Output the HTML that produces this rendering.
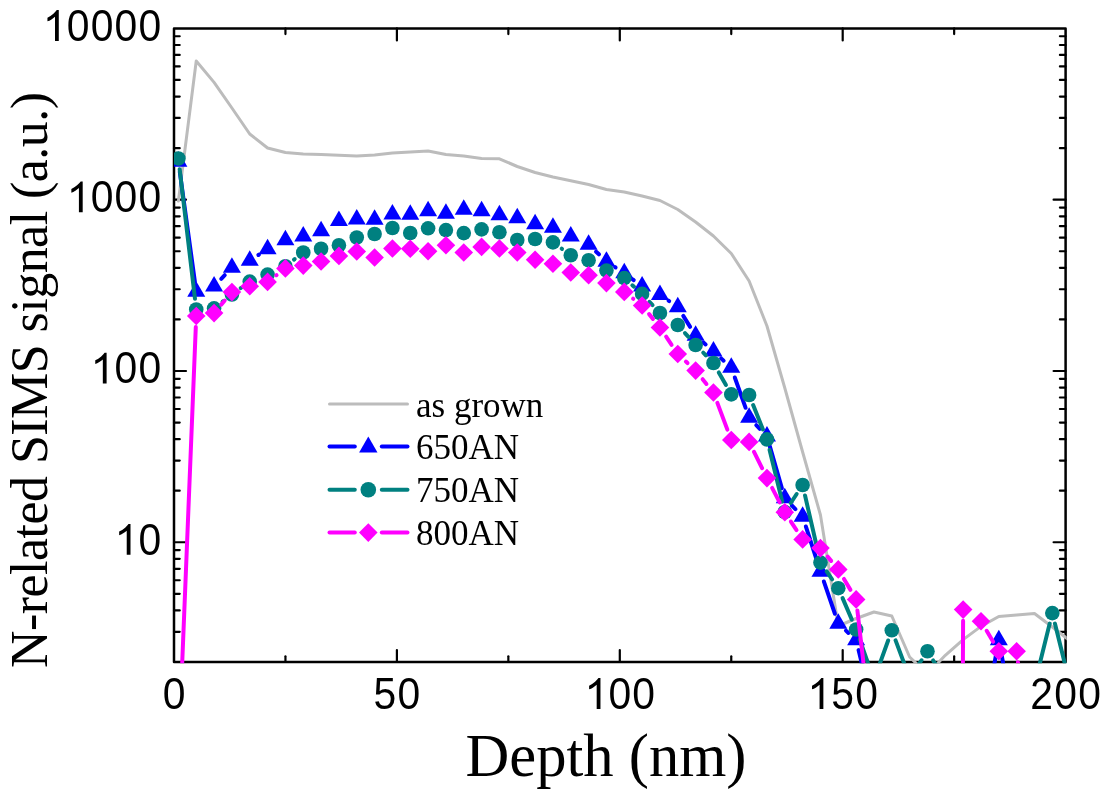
<!DOCTYPE html>
<html><head><meta charset="utf-8"><style>
html,body{margin:0;padding:0;background:#fff;}
body{width:1109px;height:799px;overflow:hidden;}
svg{display:block;will-change:transform;}
.tk{font-family:"Liberation Sans",sans-serif;font-size:43px;fill:#000;}
.lg{font-family:"Liberation Serif",serif;font-size:35px;fill:#000;}
.xt{font-family:"Liberation Serif",serif;font-size:60.6px;fill:#000;}
.yt{font-family:"Liberation Serif",serif;font-size:52px;fill:#000;}
</style></head><body>
<svg width="1109" height="799" viewBox="0 0 1109 799">
<defs><clipPath id="pc"><rect x="174.0" y="28.4" width="892.8" height="634.9"/></clipPath></defs>
<g stroke="#000" stroke-width="2.2" stroke-linecap="round"><line x1="285.45" y1="662.0" x2="285.45" y2="656.3"/><line x1="285.45" y1="28.4" x2="285.45" y2="34.1"/><line x1="396.90" y1="662.0" x2="396.90" y2="650.0"/><line x1="396.90" y1="28.4" x2="396.90" y2="40.4"/><line x1="508.35" y1="662.0" x2="508.35" y2="656.3"/><line x1="508.35" y1="28.4" x2="508.35" y2="34.1"/><line x1="619.80" y1="662.0" x2="619.80" y2="650.0"/><line x1="619.80" y1="28.4" x2="619.80" y2="40.4"/><line x1="731.25" y1="662.0" x2="731.25" y2="656.3"/><line x1="731.25" y1="28.4" x2="731.25" y2="34.1"/><line x1="842.70" y1="662.0" x2="842.70" y2="650.0"/><line x1="842.70" y1="28.4" x2="842.70" y2="40.4"/><line x1="954.15" y1="662.0" x2="954.15" y2="656.3"/><line x1="954.15" y1="28.4" x2="954.15" y2="34.1"/><line x1="174.0" y1="631.84" x2="179.7" y2="631.84"/><line x1="1065.6" y1="631.84" x2="1059.8999999999999" y2="631.84"/><line x1="174.0" y1="610.44" x2="179.7" y2="610.44"/><line x1="1065.6" y1="610.44" x2="1059.8999999999999" y2="610.44"/><line x1="174.0" y1="593.84" x2="179.7" y2="593.84"/><line x1="1065.6" y1="593.84" x2="1059.8999999999999" y2="593.84"/><line x1="174.0" y1="580.27" x2="179.7" y2="580.27"/><line x1="1065.6" y1="580.27" x2="1059.8999999999999" y2="580.27"/><line x1="174.0" y1="568.81" x2="179.7" y2="568.81"/><line x1="1065.6" y1="568.81" x2="1059.8999999999999" y2="568.81"/><line x1="174.0" y1="558.87" x2="179.7" y2="558.87"/><line x1="1065.6" y1="558.87" x2="1059.8999999999999" y2="558.87"/><line x1="174.0" y1="550.11" x2="179.7" y2="550.11"/><line x1="1065.6" y1="550.11" x2="1059.8999999999999" y2="550.11"/><line x1="174.0" y1="542.27" x2="186.0" y2="542.27"/><line x1="1065.6" y1="542.27" x2="1053.6" y2="542.27"/><line x1="174.0" y1="490.71" x2="179.7" y2="490.71"/><line x1="1065.6" y1="490.71" x2="1059.8999999999999" y2="490.71"/><line x1="174.0" y1="460.55" x2="179.7" y2="460.55"/><line x1="1065.6" y1="460.55" x2="1059.8999999999999" y2="460.55"/><line x1="174.0" y1="439.15" x2="179.7" y2="439.15"/><line x1="1065.6" y1="439.15" x2="1059.8999999999999" y2="439.15"/><line x1="174.0" y1="422.55" x2="179.7" y2="422.55"/><line x1="1065.6" y1="422.55" x2="1059.8999999999999" y2="422.55"/><line x1="174.0" y1="408.98" x2="179.7" y2="408.98"/><line x1="1065.6" y1="408.98" x2="1059.8999999999999" y2="408.98"/><line x1="174.0" y1="397.52" x2="179.7" y2="397.52"/><line x1="1065.6" y1="397.52" x2="1059.8999999999999" y2="397.52"/><line x1="174.0" y1="387.58" x2="179.7" y2="387.58"/><line x1="1065.6" y1="387.58" x2="1059.8999999999999" y2="387.58"/><line x1="174.0" y1="378.82" x2="179.7" y2="378.82"/><line x1="1065.6" y1="378.82" x2="1059.8999999999999" y2="378.82"/><line x1="174.0" y1="370.98" x2="186.0" y2="370.98"/><line x1="1065.6" y1="370.98" x2="1053.6" y2="370.98"/><line x1="174.0" y1="319.42" x2="179.7" y2="319.42"/><line x1="1065.6" y1="319.42" x2="1059.8999999999999" y2="319.42"/><line x1="174.0" y1="289.26" x2="179.7" y2="289.26"/><line x1="1065.6" y1="289.26" x2="1059.8999999999999" y2="289.26"/><line x1="174.0" y1="267.85" x2="179.7" y2="267.85"/><line x1="1065.6" y1="267.85" x2="1059.8999999999999" y2="267.85"/><line x1="174.0" y1="251.25" x2="179.7" y2="251.25"/><line x1="1065.6" y1="251.25" x2="1059.8999999999999" y2="251.25"/><line x1="174.0" y1="237.69" x2="179.7" y2="237.69"/><line x1="1065.6" y1="237.69" x2="1059.8999999999999" y2="237.69"/><line x1="174.0" y1="226.22" x2="179.7" y2="226.22"/><line x1="1065.6" y1="226.22" x2="1059.8999999999999" y2="226.22"/><line x1="174.0" y1="216.29" x2="179.7" y2="216.29"/><line x1="1065.6" y1="216.29" x2="1059.8999999999999" y2="216.29"/><line x1="174.0" y1="207.53" x2="179.7" y2="207.53"/><line x1="1065.6" y1="207.53" x2="1059.8999999999999" y2="207.53"/><line x1="174.0" y1="199.69" x2="186.0" y2="199.69"/><line x1="1065.6" y1="199.69" x2="1053.6" y2="199.69"/><line x1="174.0" y1="148.13" x2="179.7" y2="148.13"/><line x1="1065.6" y1="148.13" x2="1059.8999999999999" y2="148.13"/><line x1="174.0" y1="117.96" x2="179.7" y2="117.96"/><line x1="1065.6" y1="117.96" x2="1059.8999999999999" y2="117.96"/><line x1="174.0" y1="96.56" x2="179.7" y2="96.56"/><line x1="1065.6" y1="96.56" x2="1059.8999999999999" y2="96.56"/><line x1="174.0" y1="79.96" x2="179.7" y2="79.96"/><line x1="1065.6" y1="79.96" x2="1059.8999999999999" y2="79.96"/><line x1="174.0" y1="66.40" x2="179.7" y2="66.40"/><line x1="1065.6" y1="66.40" x2="1059.8999999999999" y2="66.40"/><line x1="174.0" y1="54.93" x2="179.7" y2="54.93"/><line x1="1065.6" y1="54.93" x2="1059.8999999999999" y2="54.93"/><line x1="174.0" y1="45.00" x2="179.7" y2="45.00"/><line x1="1065.6" y1="45.00" x2="1059.8999999999999" y2="45.00"/><line x1="174.0" y1="36.24" x2="179.7" y2="36.24"/><line x1="1065.6" y1="36.24" x2="1059.8999999999999" y2="36.24"/></g>
<rect x="174.0" y="28.4" width="891.6" height="633.6" fill="none" stroke="#000" stroke-width="2.5" stroke-linejoin="round"/>
<g clip-path="url(#pc)">
<polyline points="178.40,201.00 196.24,61.00 214.07,82.40 231.91,108.00 249.74,134.00 267.58,148.00 285.41,152.50 303.25,154.00 321.08,154.50 338.92,155.30 356.75,156.00 374.59,155.00 392.42,153.00 410.25,152.00 428.09,151.00 445.93,154.50 463.76,156.00 481.60,158.50 499.43,158.80 517.26,166.50 535.10,172.50 552.94,177.00 570.77,180.70 588.61,184.50 606.44,189.50 624.27,192.00 642.11,196.00 659.95,200.50 677.78,209.50 695.62,222.00 713.45,236.00 731.28,253.50 749.12,281.00 766.96,326.00 784.79,388.00 802.62,452.00 820.46,515.00 838.29,626.00 856.13,618.50 873.97,612.00 891.80,616.00 909.63,657.00 927.47,674.00 945.31,655.30 963.14,639.60 980.98,626.40 998.81,616.50 1016.64,615.00 1034.48,613.50 1052.32,627.00 1070.15,641.00" fill="none" stroke="#bcbcbc" stroke-width="3.0" stroke-linejoin="round" stroke-linecap="round"/>
<g stroke="#0000ff" stroke-width="4.0" stroke-linecap="round" fill="none"><line x1="179.81" y1="171.90" x2="194.82" y2="281.30"/><line x1="221.24" y1="278.81" x2="224.74" y2="275.14"/><line x1="258.44" y1="255.00" x2="258.88" y2="254.70"/><line x1="596.13" y1="251.68" x2="598.91" y2="254.32"/><line x1="615.14" y1="267.20" x2="615.58" y2="267.50"/><line x1="632.65" y1="279.37" x2="633.74" y2="280.18"/><line x1="668.53" y1="300.67" x2="669.20" y2="301.13"/><line x1="683.27" y1="315.83" x2="690.13" y2="326.87"/><line x1="703.43" y1="342.56" x2="705.63" y2="344.49"/><line x1="721.12" y1="358.38" x2="723.62" y2="360.67"/><line x1="734.79" y1="377.49" x2="745.62" y2="407.81"/><line x1="756.29" y1="425.14" x2="759.79" y2="428.81"/><line x1="769.84" y1="446.34" x2="781.91" y2="488.21"/><line x1="792.03" y1="505.67" x2="795.39" y2="509.13"/><line x1="805.83" y1="526.49" x2="817.25" y2="561.71"/><line x1="823.83" y1="581.44" x2="834.92" y2="613.76"/><line x1="845.95" y1="630.64" x2="848.47" y2="632.96"/><line x1="858.58" y1="650.11" x2="871.52" y2="703.49"/><line x1="877.52" y1="723.37" x2="888.24" y2="752.83"/><line x1="968.87" y1="753.92" x2="975.24" y2="744.28"/><line x1="982.88" y1="725.38" x2="996.90" y2="650.22"/><line x1="1000.72" y1="650.22" x2="1014.74" y2="725.38"/><line x1="1022.38" y1="744.28" x2="1028.75" y2="753.92"/></g>
<g fill="#0000ff"><path d="M178.40 151.25L187.40 166.75L169.40 166.75Z"/><path d="M196.24 281.25L205.24 296.75L187.24 296.75Z"/><path d="M214.07 276.00L223.07 291.50L205.07 291.50Z"/><path d="M231.91 257.25L240.91 272.75L222.91 272.75Z"/><path d="M249.74 250.35L258.74 265.85L240.74 265.85Z"/><path d="M267.58 238.65L276.58 254.15L258.58 254.15Z"/><path d="M285.41 229.75L294.41 245.25L276.41 245.25Z"/><path d="M303.25 226.05L312.25 241.55L294.25 241.55Z"/><path d="M321.08 220.75L330.08 236.25L312.08 236.25Z"/><path d="M338.92 210.55L347.92 226.05L329.92 226.05Z"/><path d="M356.75 208.95L365.75 224.45L347.75 224.45Z"/><path d="M374.59 209.15L383.59 224.65L365.59 224.65Z"/><path d="M392.42 204.00L401.42 219.50L383.42 219.50Z"/><path d="M410.25 204.35L419.25 219.85L401.25 219.85Z"/><path d="M428.09 200.65L437.09 216.15L419.09 216.15Z"/><path d="M445.93 203.15L454.93 218.65L436.93 218.65Z"/><path d="M463.76 199.15L472.76 214.65L454.76 214.65Z"/><path d="M481.60 200.85L490.60 216.35L472.60 216.35Z"/><path d="M499.43 204.75L508.43 220.25L490.43 220.25Z"/><path d="M517.26 207.85L526.26 223.35L508.26 223.35Z"/><path d="M535.10 213.65L544.10 229.15L526.10 229.15Z"/><path d="M552.94 217.15L561.94 232.65L543.94 232.65Z"/><path d="M570.77 226.00L579.77 241.50L561.77 241.50Z"/><path d="M588.61 234.15L597.61 249.65L579.61 249.65Z"/><path d="M606.44 251.15L615.44 266.65L597.44 266.65Z"/><path d="M624.27 262.85L633.27 278.35L615.27 278.35Z"/><path d="M642.11 276.00L651.11 291.50L633.11 291.50Z"/><path d="M659.95 284.45L668.95 299.95L650.95 299.95Z"/><path d="M677.78 296.65L686.78 312.15L668.78 312.15Z"/><path d="M695.62 325.35L704.62 340.85L686.62 340.85Z"/><path d="M713.45 341.00L722.45 356.50L704.45 356.50Z"/><path d="M731.28 357.35L740.28 372.85L722.28 372.85Z"/><path d="M749.12 407.25L758.12 422.75L740.12 422.75Z"/><path d="M766.96 426.00L775.96 441.50L757.96 441.50Z"/><path d="M784.79 487.85L793.79 503.35L775.79 503.35Z"/><path d="M802.62 506.25L811.62 521.75L793.62 521.75Z"/><path d="M820.46 561.25L829.46 576.75L811.46 576.75Z"/><path d="M838.29 613.25L847.29 628.75L829.29 628.75Z"/><path d="M856.13 629.65L865.13 645.15L847.13 645.15Z"/><path d="M998.81 629.65L1007.81 645.15L989.81 645.15Z"/></g>
<g stroke="#008080" stroke-width="4.0" stroke-linecap="round" fill="none"><line x1="179.67" y1="169.23" x2="194.97" y2="298.77"/><line x1="222.61" y1="301.69" x2="223.36" y2="301.11"/><line x1="240.66" y1="288.17" x2="240.99" y2="287.93"/><line x1="293.97" y1="259.62" x2="294.68" y2="259.08"/><line x1="561.70" y1="248.71" x2="562.01" y2="248.94"/><line x1="632.36" y1="285.26" x2="634.03" y2="286.74"/><line x1="649.48" y1="301.79" x2="652.57" y2="305.11"/><line x1="684.97" y1="333.06" x2="688.43" y2="336.94"/><line x1="703.22" y1="352.67" x2="705.85" y2="355.33"/><line x1="718.78" y1="372.39" x2="725.95" y2="385.01"/><line x1="753.15" y1="405.02" x2="762.93" y2="429.38"/><line x1="769.53" y1="449.89" x2="782.21" y2="501.51"/><line x1="790.74" y1="502.99" x2="796.67" y2="494.01"/><line x1="805.04" y1="495.53" x2="818.04" y2="552.07"/><line x1="826.63" y1="571.46" x2="832.12" y2="579.34"/><line x1="842.58" y1="598.11" x2="851.85" y2="619.59"/><line x1="859.73" y1="639.68" x2="870.37" y2="669.82"/><line x1="877.61" y1="669.83" x2="888.15" y2="640.47"/><line x1="895.58" y1="640.42" x2="905.85" y2="667.88"/><line x1="915.63" y1="669.01" x2="921.48" y2="660.24"/><line x1="933.16" y1="660.43" x2="939.61" y2="670.82"/><line x1="949.70" y1="689.86" x2="958.74" y2="710.14"/><line x1="1021.55" y1="710.38" x2="1029.58" y2="694.62"/><line x1="1037.08" y1="674.52" x2="1049.71" y2="623.58"/><line x1="1054.92" y1="623.58" x2="1067.55" y2="674.52"/></g>
<g fill="#008080"><circle cx="178.40" cy="158.50" r="7.3"/><circle cx="196.24" cy="309.50" r="7.3"/><circle cx="214.07" cy="308.30" r="7.3"/><circle cx="231.91" cy="294.50" r="7.3"/><circle cx="249.74" cy="281.60" r="7.3"/><circle cx="267.58" cy="274.60" r="7.3"/><circle cx="285.41" cy="266.20" r="7.3"/><circle cx="303.25" cy="252.50" r="7.3"/><circle cx="321.08" cy="248.75" r="7.3"/><circle cx="338.92" cy="245.25" r="7.3"/><circle cx="356.75" cy="237.50" r="7.3"/><circle cx="374.59" cy="234.00" r="7.3"/><circle cx="392.42" cy="228.00" r="7.3"/><circle cx="410.25" cy="233.00" r="7.3"/><circle cx="428.09" cy="228.30" r="7.3"/><circle cx="445.93" cy="230.10" r="7.3"/><circle cx="463.76" cy="233.10" r="7.3"/><circle cx="481.60" cy="229.40" r="7.3"/><circle cx="499.43" cy="232.25" r="7.3"/><circle cx="517.26" cy="240.00" r="7.3"/><circle cx="535.10" cy="239.00" r="7.3"/><circle cx="552.94" cy="242.40" r="7.3"/><circle cx="570.77" cy="255.25" r="7.3"/><circle cx="588.61" cy="260.25" r="7.3"/><circle cx="606.44" cy="270.60" r="7.3"/><circle cx="624.27" cy="278.10" r="7.3"/><circle cx="642.11" cy="293.90" r="7.3"/><circle cx="659.95" cy="313.00" r="7.3"/><circle cx="677.78" cy="325.00" r="7.3"/><circle cx="695.62" cy="345.00" r="7.3"/><circle cx="713.45" cy="363.00" r="7.3"/><circle cx="731.28" cy="394.40" r="7.3"/><circle cx="749.12" cy="395.00" r="7.3"/><circle cx="766.96" cy="439.40" r="7.3"/><circle cx="784.79" cy="512.00" r="7.3"/><circle cx="802.62" cy="485.00" r="7.3"/><circle cx="820.46" cy="562.60" r="7.3"/><circle cx="838.29" cy="588.20" r="7.3"/><circle cx="856.13" cy="629.50" r="7.3"/><circle cx="891.80" cy="630.30" r="7.3"/><circle cx="927.47" cy="651.25" r="7.3"/><circle cx="1052.32" cy="613.10" r="7.3"/></g>
<g stroke="#ff00ff" stroke-width="4.0" stroke-linecap="round" fill="none"><line x1="178.85" y1="745.91" x2="195.79" y2="327.09"/><line x1="221.26" y1="304.64" x2="224.72" y2="300.56"/><line x1="276.43" y1="275.20" x2="276.56" y2="275.10"/><line x1="633.10" y1="298.63" x2="633.28" y2="298.77"/><line x1="649.10" y1="314.12" x2="652.95" y2="318.88"/><line x1="666.14" y1="336.71" x2="671.58" y2="344.79"/><line x1="685.91" y1="361.56" x2="687.49" y2="363.04"/><line x1="702.62" y1="379.21" x2="706.44" y2="383.89"/><line x1="717.35" y1="402.89" x2="727.38" y2="429.61"/><line x1="754.03" y1="451.86" x2="762.05" y2="468.14"/><line x1="772.09" y1="487.94" x2="779.65" y2="502.41"/><line x1="790.88" y1="521.53" x2="796.53" y2="530.12"/><line x1="827.59" y1="556.61" x2="831.17" y2="560.89"/><line x1="843.97" y1="578.94" x2="850.46" y2="589.86"/><line x1="857.40" y1="610.43" x2="872.69" y2="742.97"/><line x1="877.98" y1="764.35" x2="887.79" y2="789.65"/><line x1="927.52" y1="811.10" x2="945.26" y2="4988.90"/><line x1="945.35" y1="4988.90" x2="963.09" y2="620.70"/><line x1="986.65" y1="630.74" x2="993.14" y2="641.66"/><line x1="1017.97" y1="662.22" x2="1033.16" y2="788.98"/></g>
<g fill="#ff00ff"><path d="M196.24 306.70L205.54 316.00L196.24 325.30L186.94 316.00Z"/><path d="M214.07 303.80L223.37 313.10L214.07 322.40L204.77 313.10Z"/><path d="M231.91 282.80L241.21 292.10L231.91 301.40L222.60 292.10Z"/><path d="M249.74 276.95L259.04 286.25L249.74 295.55L240.44 286.25Z"/><path d="M267.58 272.60L276.88 281.90L267.58 291.20L258.28 281.90Z"/><path d="M285.41 259.10L294.71 268.40L285.41 277.70L276.11 268.40Z"/><path d="M303.25 256.30L312.55 265.60L303.25 274.90L293.94 265.60Z"/><path d="M321.08 252.20L330.38 261.50L321.08 270.80L311.78 261.50Z"/><path d="M338.92 246.60L348.22 255.90L338.92 265.20L329.62 255.90Z"/><path d="M356.75 242.20L366.05 251.50L356.75 260.80L347.45 251.50Z"/><path d="M374.59 248.20L383.89 257.50L374.59 266.80L365.29 257.50Z"/><path d="M392.42 239.20L401.72 248.50L392.42 257.80L383.12 248.50Z"/><path d="M410.25 239.50L419.56 248.80L410.25 258.10L400.95 248.80Z"/><path d="M428.09 241.90L437.39 251.20L428.09 260.50L418.79 251.20Z"/><path d="M445.93 235.90L455.23 245.20L445.93 254.50L436.63 245.20Z"/><path d="M463.76 243.20L473.06 252.50L463.76 261.80L454.46 252.50Z"/><path d="M481.60 237.60L490.90 246.90L481.60 256.20L472.30 246.90Z"/><path d="M499.43 239.20L508.73 248.50L499.43 257.80L490.13 248.50Z"/><path d="M517.26 243.20L526.56 252.50L517.26 261.80L507.96 252.50Z"/><path d="M535.10 250.45L544.40 259.75L535.10 269.05L525.80 259.75Z"/><path d="M552.94 254.45L562.24 263.75L552.94 273.05L543.64 263.75Z"/><path d="M570.77 263.20L580.07 272.50L570.77 281.80L561.47 272.50Z"/><path d="M588.61 265.95L597.90 275.25L588.61 284.55L579.31 275.25Z"/><path d="M606.44 273.80L615.74 283.10L606.44 292.40L597.14 283.10Z"/><path d="M624.27 282.60L633.57 291.90L624.27 301.20L614.98 291.90Z"/><path d="M642.11 296.20L651.41 305.50L642.11 314.80L632.81 305.50Z"/><path d="M659.95 318.20L669.25 327.50L659.95 336.80L650.65 327.50Z"/><path d="M677.78 344.70L687.08 354.00L677.78 363.30L668.48 354.00Z"/><path d="M695.62 361.30L704.91 370.60L695.62 379.90L686.32 370.60Z"/><path d="M713.45 383.20L722.75 392.50L713.45 401.80L704.15 392.50Z"/><path d="M731.28 430.70L740.58 440.00L731.28 449.30L721.99 440.00Z"/><path d="M749.12 432.60L758.42 441.90L749.12 451.20L739.82 441.90Z"/><path d="M766.96 468.80L776.25 478.10L766.96 487.40L757.66 478.10Z"/><path d="M784.79 502.95L794.09 512.25L784.79 521.55L775.49 512.25Z"/><path d="M802.62 530.10L811.92 539.40L802.62 548.70L793.33 539.40Z"/><path d="M820.46 538.80L829.76 548.10L820.46 557.40L811.16 548.10Z"/><path d="M838.29 560.10L847.59 569.40L838.29 578.70L829.00 569.40Z"/><path d="M856.13 590.10L865.43 599.40L856.13 608.70L846.83 599.40Z"/><path d="M963.14 600.30L972.44 609.60L963.14 618.90L953.84 609.60Z"/><path d="M980.98 611.90L990.27 621.20L980.98 630.50L971.68 621.20Z"/><path d="M998.81 641.90L1008.11 651.20L998.81 660.50L989.51 651.20Z"/><path d="M1016.64 641.90L1025.94 651.20L1016.64 660.50L1007.35 651.20Z"/></g>
</g>
<line x1="329.5" y1="404.0" x2="407.5" y2="404.0" stroke="#bcbcbc" stroke-width="3.0" stroke-linecap="round"/><g stroke="#0000ff" stroke-width="4.0" stroke-linecap="round"><line x1="329.5" y1="446.6" x2="354.8" y2="446.6"/><line x1="381.8" y1="446.6" x2="407.5" y2="446.6"/></g><path fill="#0000ff" d="M368.3 436.5L377.5 452.40000000000003L359.1 452.40000000000003Z"/><g stroke="#008080" stroke-width="4.0" stroke-linecap="round"><line x1="329.5" y1="489.8" x2="354.8" y2="489.8"/><line x1="381.8" y1="489.8" x2="407.5" y2="489.8"/></g><circle fill="#008080" cx="368.3" cy="489.8" r="7.8"/><g stroke="#ff00ff" stroke-width="4.0" stroke-linecap="round"><line x1="329.5" y1="532.6" x2="354.8" y2="532.6"/><line x1="381.8" y1="532.6" x2="407.5" y2="532.6"/></g><path fill="#ff00ff" d="M368.3 523.3000000000001L377.6 532.6L368.3 541.9L359.0 532.6Z"/><text x="416" y="416.5" class="lg">as grown</text><text x="416" y="459.1" class="lg">650AN</text><text x="416" y="502.3" class="lg">750AN</text><text x="416" y="545.1" class="lg">800AN</text>
<g fill="#000"><path transform="translate(42.76,40.90) scale(0.02100,-0.02100)" d="M763 0L583 0L583 1147Q518 1085 415 1024.5Q312 964 223 931L223 1105Q385 1181 507 1290.5Q629 1400 668 1466L763 1466Z"/><text transform="translate(78.12,40.90) scale(0.95,1.035)" x="0" y="0" text-anchor="middle" class="tk">0</text><text transform="translate(102.03,40.90) scale(0.95,1.035)" x="0" y="0" text-anchor="middle" class="tk">0</text><text transform="translate(125.94,40.90) scale(0.95,1.035)" x="0" y="0" text-anchor="middle" class="tk">0</text><text transform="translate(149.85,40.90) scale(0.95,1.035)" x="0" y="0" text-anchor="middle" class="tk">0</text></g>
<g fill="#000"><path transform="translate(66.67,212.19) scale(0.02100,-0.02100)" d="M763 0L583 0L583 1147Q518 1085 415 1024.5Q312 964 223 931L223 1105Q385 1181 507 1290.5Q629 1400 668 1466L763 1466Z"/><text transform="translate(102.03,212.19) scale(0.95,1.035)" x="0" y="0" text-anchor="middle" class="tk">0</text><text transform="translate(125.94,212.19) scale(0.95,1.035)" x="0" y="0" text-anchor="middle" class="tk">0</text><text transform="translate(149.85,212.19) scale(0.95,1.035)" x="0" y="0" text-anchor="middle" class="tk">0</text></g>
<g fill="#000"><path transform="translate(90.58,383.48) scale(0.02100,-0.02100)" d="M763 0L583 0L583 1147Q518 1085 415 1024.5Q312 964 223 931L223 1105Q385 1181 507 1290.5Q629 1400 668 1466L763 1466Z"/><text transform="translate(125.94,383.48) scale(0.95,1.035)" x="0" y="0" text-anchor="middle" class="tk">0</text><text transform="translate(149.85,383.48) scale(0.95,1.035)" x="0" y="0" text-anchor="middle" class="tk">0</text></g>
<g fill="#000"><path transform="translate(114.48,554.77) scale(0.02100,-0.02100)" d="M763 0L583 0L583 1147Q518 1085 415 1024.5Q312 964 223 931L223 1105Q385 1181 507 1290.5Q629 1400 668 1466L763 1466Z"/><text transform="translate(149.85,554.77) scale(0.95,1.035)" x="0" y="0" text-anchor="middle" class="tk">0</text></g>
<g fill="#000"><text transform="translate(174.00,708.90) scale(0.95,1.035)" x="0" y="0" text-anchor="middle" class="tk">0</text></g>
<g fill="#000"><text transform="translate(384.95,708.90) scale(0.95,1.035)" x="0" y="0" text-anchor="middle" class="tk">5</text><text transform="translate(408.85,708.90) scale(0.95,1.035)" x="0" y="0" text-anchor="middle" class="tk">0</text></g>
<g fill="#000"><path transform="translate(584.44,708.90) scale(0.02100,-0.02100)" d="M763 0L583 0L583 1147Q518 1085 415 1024.5Q312 964 223 931L223 1105Q385 1181 507 1290.5Q629 1400 668 1466L763 1466Z"/><text transform="translate(619.80,708.90) scale(0.95,1.035)" x="0" y="0" text-anchor="middle" class="tk">0</text><text transform="translate(643.71,708.90) scale(0.95,1.035)" x="0" y="0" text-anchor="middle" class="tk">0</text></g>
<g fill="#000"><path transform="translate(807.34,708.90) scale(0.02100,-0.02100)" d="M763 0L583 0L583 1147Q518 1085 415 1024.5Q312 964 223 931L223 1105Q385 1181 507 1290.5Q629 1400 668 1466L763 1466Z"/><text transform="translate(842.70,708.90) scale(0.95,1.035)" x="0" y="0" text-anchor="middle" class="tk">5</text><text transform="translate(866.61,708.90) scale(0.95,1.035)" x="0" y="0" text-anchor="middle" class="tk">0</text></g>
<g fill="#000"><text transform="translate(1041.69,708.90) scale(0.95,1.035)" x="0" y="0" text-anchor="middle" class="tk">2</text><text transform="translate(1065.60,708.90) scale(0.95,1.035)" x="0" y="0" text-anchor="middle" class="tk">0</text><text transform="translate(1089.51,708.90) scale(0.95,1.035)" x="0" y="0" text-anchor="middle" class="tk">0</text></g>
<text x="606" y="776" class="xt" text-anchor="middle">Depth (nm)</text>
<text transform="translate(47,380) rotate(-90)" class="yt" text-anchor="middle" textLength="576" lengthAdjust="spacing">N-related SIMS signal (a.u.)</text>
</svg>
</body></html>
